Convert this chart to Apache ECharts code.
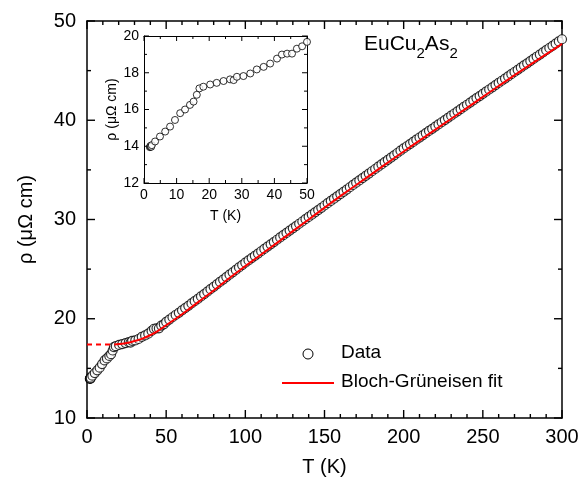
<!DOCTYPE html>
<html>
<head>
<meta charset="utf-8">
<script src="https://cdn.jsdelivr.net/npm/echarts@6/dist/echarts.min.js"></script>
<style>
html,body{margin:0;padding:0;background:#fff;}
#chart{width:582px;height:487px;}
</style>
</head>
<body>
<div id="chart"></div>
<script>
// Low-temperature data (also shown in the inset)
var lowT   = [1.8, 1.9, 2.0, 2.1, 2.2, 2.4, 3.4, 4.9, 6.5, 8.0, 9.5, 11.1, 12.6, 14.1, 15.2, 16.2, 17.0, 18.2, 20.3, 22.3, 24.4, 26.4, 27.5, 28.5, 30.5, 32.6, 34.6, 36.7, 38.7, 40.8, 42.3, 43.9, 45.4, 46.9, 48.5, 50.0];
var lowRho = [13.95, 13.98, 14.0, 14.03, 13.97, 14.06, 14.26, 14.53, 14.8, 15.07, 15.43, 15.8, 16.0, 16.25, 16.43, 16.8, 17.15, 17.24, 17.36, 17.45, 17.55, 17.64, 17.6, 17.78, 17.82, 17.96, 18.18, 18.32, 18.5, 18.77, 18.99, 19.04, 19.04, 19.31, 19.44, 19.68];

// High-temperature data (main panel)
var highT = [52,54,56,58,60,62,64,66,68,70,72,74,76,78,80,82,84,86,88,90,92,94,96,98,100,
  102,104,106,108,110,112,114,116,118,120,122,124,126,128,130,132,134,136,138,140,142,144,146,148,150,
  152,154,156,158,160,162,164,166,168,170,172,174,176,178,180,182,184,186,188,190,192,194,196,198,200,
  202,204,206,208,210,212,214,216,218,220,222,224,226,228,230,232,234,236,238,240,242,244,246,248,250,
  252,254,256,258,260,262,264,266,268,270,272,274,276,278,280,282,284,286,288,290,292,294,296,298,300];
var highRho = [19.92,20.15,20.38,20.6,20.85,21.08,21.3,21.54,21.77,22.0,22.25,22.49,22.73,22.98,23.22,23.47,23.71,23.95,24.2,24.44,24.68,24.92,25.17,25.41,25.65,
  25.88,26.11,26.34,26.57,26.8,27.04,27.27,27.5,27.73,27.96,28.19,28.42,28.65,28.88,29.11,29.34,29.57,29.8,30.03,30.26,30.49,30.72,30.95,31.18,31.41,
  31.64,31.87,32.1,32.33,32.56,32.79,33.02,33.25,33.48,33.71,33.94,34.17,34.4,34.63,34.86,35.09,35.32,35.55,35.78,36.01,36.24,36.47,36.7,36.93,37.16,
  37.38,37.6,37.82,38.04,38.26,38.48,38.7,38.92,39.14,39.36,39.58,39.8,40.02,40.24,40.46,40.68,40.9,41.12,41.34,41.56,41.78,42.0,42.22,42.44,42.66,
  42.88,43.1,43.32,43.54,43.76,43.98,44.2,44.42,44.64,44.86,45.08,45.3,45.52,45.74,45.96,46.18,46.4,46.62,46.84,47.06,47.28,47.5,47.72,47.94,48.16];

// Bloch-Grüneisen fit
var fitT   = [17.5, 20, 25, 30, 35, 40, 45, 50, 55, 60, 65, 70, 80, 90, 100, 120, 140, 160, 180, 200, 220, 240, 260, 280, 300];
var fitRho = [17.4, 17.45, 17.55, 17.75, 18.0, 18.35, 18.8, 19.35, 19.9, 20.45, 21.05, 21.65, 22.85, 24.1, 25.3, 27.65, 30.0, 32.35, 34.6, 36.85, 39.05, 41.25, 43.45, 45.6, 47.7];
// residual resistivity (dashed extension)
var resT   = [0, 17.5];
var resRho = [17.4, 17.4];

// tick values
var mainXTicks = [0, 50, 100, 150, 200, 250, 300];
var mainXMinor = [10, 20, 30, 40, 60, 70, 80, 90, 110, 120, 130, 140, 160, 170, 180, 190, 210, 220, 230, 240, 260, 270, 280, 290];
var mainYTicks = [10, 20, 30, 40, 50];
var mainYMinor = [15, 25, 35, 45];
var insetXTicks = [0, 10, 20, 30, 40, 50];
var insetXMinor = [5, 15, 25, 35, 45];
var insetYTicks = [12, 14, 16, 18, 20];
var insetYMinor = [13, 15, 17, 19];

function pairs(a, b){ var r=[]; for(var i=0;i<a.length;i++) r.push([a[i], b[i]]); return r; }
var mainData = pairs(lowT, lowRho).concat(pairs(highT, highRho));
var insetData = pairs(lowT, lowRho);

var FONT = 'Liberation Sans, Arial, sans-serif';
var black = '#000';

var xMainMin = mainXTicks[0], xMainMax = mainXTicks[mainXTicks.length-1];
var yMainMin = mainYTicks[0], yMainMax = mainYTicks[mainYTicks.length-1];
var xInMin = insetXTicks[0], xInMax = insetXTicks[insetXTicks.length-1];
var yInMin = insetYTicks[0], yInMax = insetYTicks[insetYTicks.length-1];

// Tick items, drawn through the axis scales by a custom series
function tickItems(xMaj, xMin_, yMaj, yMin_, x0, x1, y0, y1, majLen, minLen){
  var items = [];
  xMaj.forEach(function(v){ items.push({axis:'x', v:v, len:majLen, value:[v, y0]}); });
  xMin_.forEach(function(v){ items.push({axis:'x', v:v, len:minLen, value:[v, y0]}); });
  yMaj.forEach(function(v){ items.push({axis:'y', v:v, len:majLen, value:[x0, v]}); });
  yMin_.forEach(function(v){ items.push({axis:'y', v:v, len:minLen, value:[x0, v]}); });
  return items;
}
var mainTicks = tickItems(mainXTicks, mainXMinor, mainYTicks, mainYMinor, xMainMin, xMainMax, yMainMin, yMainMax, 8, 4);
var insetTicks = tickItems(insetXTicks, insetXMinor, insetYTicks, insetYMinor, xInMin, xInMax, yInMin, yInMax, 5, 3);

function makeTickRenderer(items, x0, x1, y0, y1, lw){
  return function(params, api){
    var it = items[params.dataIndex];
    var a, b, lines;
    if (it.axis === 'x') {
      a = api.coord([it.v, y0]); b = api.coord([it.v, y1]);
      lines = [[a[0], a[1], a[0], a[1] - it.len], [b[0], b[1], b[0], b[1] + it.len]];
    } else {
      a = api.coord([x0, it.v]); b = api.coord([x1, it.v]);
      lines = [[a[0], a[1], a[0] + it.len, a[1]], [b[0], b[1], b[0] - it.len, b[1]]];
    }
    return {type:'group', children: lines.map(function(l){
      return {type:'line', shape:{x1:l[0], y1:l[1], x2:l[2], y2:l[3]}, style:{stroke:black, lineWidth:lw}};
    })};
  };
}

function axisBase(show, fs, lw){
  return {
    axisLine: {show: true, onZero: false, lineStyle: {color: black, width: lw}},
    axisTick: {show: false},
    minorTick: {show: false},
    axisLabel: {show: show, color: black, fontSize: fs, fontFamily: FONT},
    splitLine: {show: false}
  };
}
function mk(base, extra){ var o = {}; for (var k in base) o[k]=base[k]; for (var k2 in extra) o[k2]=extra[k2]; return o; }

var chart = echarts.init(document.getElementById('chart'), null, {renderer: 'canvas'});

var option = {
  backgroundColor: '#fff',
  animation: false,
  grid: [
    {left: 87, top: 21, width: 475, height: 397},
    {left: 144, top: 36, width: 163, height: 147, show: true, backgroundColor: '#fff', borderWidth: 0, z: 4}
  ],
  xAxis: [
    mk(axisBase(true, 20, 1.5), {gridIndex: 0, type: 'value', position: 'bottom', min: xMainMin, max: xMainMax, interval: 50,
      name: 'T (K)', nameLocation: 'middle', nameGap: 39, nameTextStyle: {fontSize: 20, color: black, fontFamily: FONT},
      axisLabel: {color: black, fontSize: 20, fontFamily: FONT, margin: 9}}),
    mk(axisBase(false, 20, 1.5), {gridIndex: 0, type: 'value', position: 'top', min: xMainMin, max: xMainMax, interval: 50}),
    mk(axisBase(true, 14, 1), {gridIndex: 1, type: 'value', position: 'bottom', min: xInMin, max: xInMax, interval: 10, z: 6,
      name: 'T (K)', nameLocation: 'middle', nameGap: 26, nameTextStyle: {fontSize: 14, color: black, fontFamily: FONT},
      axisLabel: {color: black, fontSize: 14, fontFamily: FONT, margin: 5}}),
    mk(axisBase(false, 14, 1), {gridIndex: 1, type: 'value', position: 'top', min: xInMin, max: xInMax, interval: 10, z: 6})
  ],
  yAxis: [
    mk(axisBase(true, 20, 1.5), {gridIndex: 0, type: 'value', position: 'left', min: yMainMin, max: yMainMax, interval: 10,
      name: 'ρ (μΩ cm)', nameLocation: 'middle', nameGap: 51, nameRotate: 90, nameTextStyle: {fontSize: 20, color: black, fontFamily: FONT},
      axisLabel: {color: black, fontSize: 20, fontFamily: FONT, margin: 11}}),
    mk(axisBase(false, 20, 1.5), {gridIndex: 0, type: 'value', position: 'right', min: yMainMin, max: yMainMax, interval: 10}),
    mk(axisBase(true, 14, 1), {gridIndex: 1, type: 'value', position: 'left', min: yInMin, max: yInMax, interval: 2, z: 6,
      name: 'ρ (μΩ cm)', nameLocation: 'middle', nameGap: 24, nameRotate: 90, nameTextStyle: {fontSize: 14, color: black, fontFamily: FONT},
      axisLabel: {color: black, fontSize: 14, fontFamily: FONT, margin: 5}}),
    mk(axisBase(false, 14, 1), {gridIndex: 1, type: 'value', position: 'right', min: yInMin, max: yInMax, interval: 2, z: 6})
  ],
  series: [
    {name: 'Data', type: 'scatter', xAxisIndex: 0, yAxisIndex: 0, data: mainData, symbol: 'circle', symbolSize: 9,
     itemStyle: {color: '#fff', borderColor: black, borderWidth: 1.2}, z: 2},
    {name: 'Bloch-Grüneisen fit', type: 'line', xAxisIndex: 0, yAxisIndex: 0, data: pairs(fitT, fitRho), smooth: true, showSymbol: false,
     lineStyle: {color: '#ff0000', width: 2}, z: 3},
    {name: 'residual', type: 'line', xAxisIndex: 0, yAxisIndex: 0, data: pairs(resT, resRho), showSymbol: false,
     lineStyle: {color: '#ff0000', width: 2, type: [5, 4]}, z: 3},
    {name: 'mainTicks', type: 'custom', xAxisIndex: 0, yAxisIndex: 0, data: mainTicks, silent: true, clip: false, z: 3,
     renderItem: makeTickRenderer(mainTicks, xMainMin, xMainMax, yMainMin, yMainMax, 1.4)},
    {name: 'inset', type: 'scatter', xAxisIndex: 2, yAxisIndex: 2, data: insetData, symbol: 'circle', symbolSize: 7,
     itemStyle: {color: '#fff', borderColor: black, borderWidth: 1}, z: 6},
    {name: 'insetTicks', type: 'custom', xAxisIndex: 2, yAxisIndex: 2, data: insetTicks, silent: true, clip: false, z: 6,
     renderItem: makeTickRenderer(insetTicks, xInMin, xInMax, yInMin, yInMax, 1)}
  ],
  graphic: [
    {type: 'text', left: 364, top: 34, z: 10, style: {
      text: '{a|EuCu}{s|2}{a|As}{s|2}', fontFamily: FONT,
      rich: {a: {fontSize: 21, fontFamily: FONT, fill: black, verticalAlign: 'bottom', lineHeight: 26},
             s: {fontSize: 15, fontFamily: FONT, fill: black, verticalAlign: 'bottom', lineHeight: 15, padding: [0, 0, -6, 0]}}
    }},
    {type: 'circle', z: 10, shape: {cx: 308, cy: 354, r: 5}, style: {fill: '#fff', stroke: black, lineWidth: 1}},
    {type: 'text', z: 10, left: 341, top: 343, style: {text: 'Data', fontSize: 19, fontFamily: FONT, fill: black}},
    {type: 'line', z: 10, shape: {x1: 282, y1: 383, x2: 334, y2: 383}, style: {stroke: '#ff0000', lineWidth: 2}},
    {type: 'text', z: 10, left: 341, top: 372, style: {text: 'Bloch-Grüneisen fit', fontSize: 19, fontFamily: FONT, fill: black}}
  ]
};
chart.setOption(option);
</script>
</body>
</html>
